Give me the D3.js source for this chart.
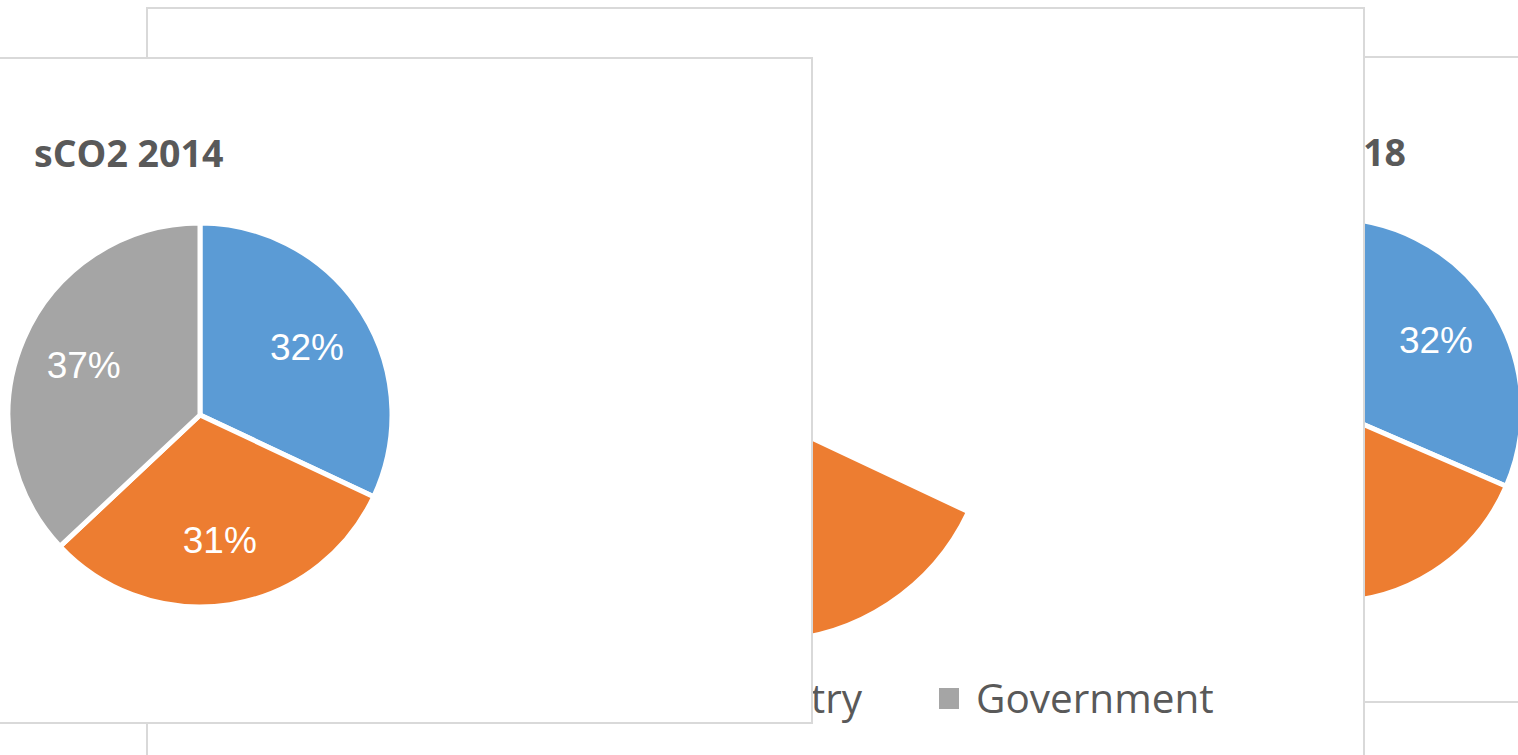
<!DOCTYPE html>
<html>
<head>
<meta charset="utf-8">
<script src="https://cdn.jsdelivr.net/npm/d3@7"></script>
<style>
  body { margin: 0; background: #fff; overflow: hidden; }
  svg { display: block; }
</style>
</head>
<body>
<div id="my_dataviz"></div>
<script>
// series data
const categories = ["Academia", "Industry", "Government"];
const colors = ["#5B9BD5", "#ED7D31", "#A5A5A5"];
const values2014 = [32, 31, 37];
const values2016 = [32, 35, 33];
const values2018 = [31.5, 38, 30.5];

const width = 1518, height = 755;

const svg = d3.select("#my_dataviz")
  .append("svg")
    .attr("width", width)
    .attr("height", height);

const color = d3.scaleOrdinal().domain(categories).range(colors);

// chart windows, drawn back to front
const panels = [
  {id: "p2018", x: 1000, y: 57, w: 1000, h: 645, title: "sCO2 2018", values: values2018,
   cx: 1330, cy: 410, r: 192, titleX: 1406, titleY: 166, titleAnchor: "end",
   shown: categories, legend: false},
  {id: "p2016", x: 147, y: 8, w: 1217, h: 900, title: "sCO2 2016", values: values2016,
   cx: 765, cy: 416, r: 225, titleX: 599, titleY: 117, titleAnchor: "start",
   shown: ["Industry"], legend: true},
  {id: "p2014", x: -400, y: 58, w: 1212, h: 665, title: "sCO2 2014", values: values2014,
   cx: 200, cy: 415, r: 192, titleX: 34, titleY: 167, titleAnchor: "start",
   shown: categories, legend: false}
];

const pie = d3.pie().sort(null).value(d => d.value);

panels.forEach(function(p) {
  const data = categories.map((c, i) => ({name: c, value: p.values[i]}));
  const total = d3.sum(data, d => d.value);

  svg.append("clipPath").attr("id", "clip-" + p.id)
    .append("rect")
      .attr("x", p.x).attr("y", p.y)
      .attr("width", p.w).attr("height", p.h);

  const g = svg.append("g");

  g.append("rect")
    .attr("x", p.x).attr("y", p.y)
    .attr("width", p.w).attr("height", p.h)
    .attr("fill", "#fff");

  const inner = g.append("g").attr("clip-path", "url(#clip-" + p.id + ")");

  inner.append("text")
    .attr("x", p.titleX)
    .attr("y", p.titleY)
    .attr("text-anchor", p.titleAnchor)
    .style("font-family", "'Open Sans', sans-serif")
    .style("font-weight", "bold")
    .style("font-size", "37.5px")
    .style("fill", "#595959")
    .text(p.title);

  const arc = d3.arc().innerRadius(0).outerRadius(p.r);
  const labelArc = d3.arc().innerRadius(p.r * 0.66).outerRadius(p.r * 0.66);

  const arcs = pie(data).filter(d => p.shown.includes(d.data.name));

  const pieG = inner.append("g")
    .attr("transform", "translate(" + p.cx + "," + p.cy + ")");

  pieG.selectAll("path")
    .data(arcs)
    .enter()
    .append("path")
      .attr("d", arc)
      .attr("fill", d => color(d.data.name))
      .attr("stroke", "#fff")
      .attr("stroke-width", 5)
      .attr("stroke-linejoin", "round");

  pieG.selectAll("text")
    .data(arcs)
    .enter()
    .append("text")
      .attr("transform", d => "translate(" + labelArc.centroid(d) + ")")
      .attr("dy", "0.35em")
      .attr("text-anchor", "middle")
      .style("font-family", "'Liberation Sans', Arial, sans-serif")
      .style("font-size", "37px")
      .style("fill", "#fff")
      .text(d => Math.round(d.data.value / total * 100) + "%");

  if (p.legend) {
    const legend = inner.append("g");
    const item = legend.selectAll("g")
      .data(categories)
      .enter()
      .append("g");
    item.append("rect")
      .attr("width", 20).attr("height", 21)
      .attr("y", -25)
      .attr("fill", d => color(d));
    item.append("text")
      .attr("x", 37)
      .style("font-family", "'Open Sans', sans-serif")
      .style("font-size", "40.5px")
      .style("fill", "#595959")
      .text(d => d);
    // lay items out left to right
    let widths = [];
    item.each(function() { widths.push(37 + this.querySelector("text").getComputedTextLength() + 77); });
    let offs = [0];
    for (let i = 1; i < widths.length; i++) offs.push(offs[i - 1] + widths[i - 1]);
    const startX = 939 - offs[2];
    item.attr("transform", (d, i) => "translate(" + (startX + offs[i]) + ",713)");
  }

  g.append("rect")
    .attr("x", p.x).attr("y", p.y)
    .attr("width", p.w).attr("height", p.h)
    .attr("fill", "none")
    .attr("stroke", "#d9d9d9")
    .attr("stroke-width", 2);
});
</script>
</body>
</html>
